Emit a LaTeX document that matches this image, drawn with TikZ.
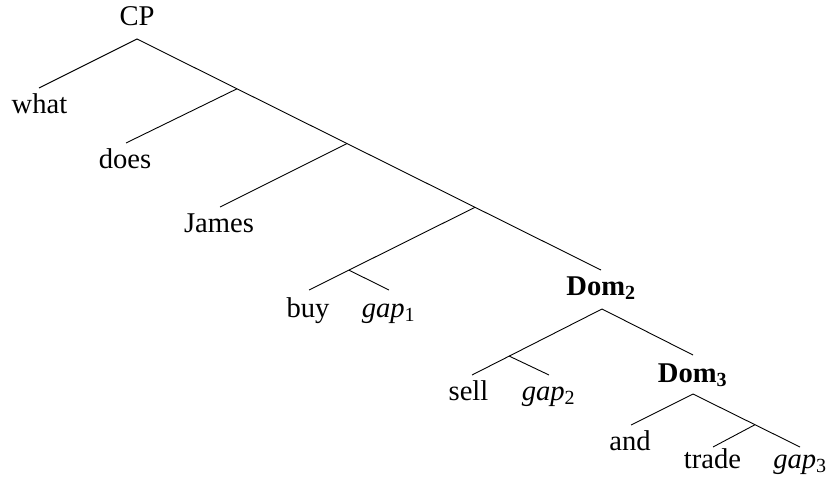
\documentclass[tikz,border=0pt]{standalone}
\usepackage{fontspec}
\setmainfont{Liberation Serif}
\begin{document}
\begin{tikzpicture}[x=1pt,y=-1pt,
  lbl/.style={anchor=base,inner sep=0pt,font=\fontsize{28.6}{34}\selectfont},
  edge/.style={line width=0.9pt,black}]
\useasboundingbox (0,0) rectangle (827,482);
% labels
\node[lbl] (cp) at (137,25) {CP};
\node[lbl] (what) at (39.5,113) {what};
\node[lbl] (does) at (125,168) {does};
\node[lbl] (james) at (219,232) {James};
\node[lbl] (buy) at (308,317) {buy};
\node[lbl] (gapa) at (388.5,317) {\textit{gap}\textsubscript{1}};
\node[lbl] (domb) at (601,295) {\textbf{Dom\textsubscript{2}}};
\node[lbl] (sell) at (468.5,400) {sell};
\node[lbl] (gapb) at (548.5,400) {\textit{gap}\textsubscript{2}};
\node[lbl] (domc) at (692.5,382) {\textbf{Dom\textsubscript{3}}};
\node[lbl] (and) at (630,450) {and};
\node[lbl] (trade) at (712.5,468) {trade};
\node[lbl] (gapc) at (800,468) {\textit{gap}\textsubscript{3}};
% tree points
\coordinate (cpT) at (137,39);
\coordinate (whatE) at (39,88);
\coordinate (j1) at (237,88.8);
\coordinate (doesE) at (126,143);
\coordinate (j2) at (347,143.6);
\coordinate (jamesE) at (220,207);
\coordinate (j3) at (475,207.3);
\coordinate (jb) at (349,270.2);
\coordinate (buyE) at (309,290);
\coordinate (gapaE) at (389,290);
\coordinate (dombE) at (601,270);
\coordinate (dombT) at (602,309);
\coordinate (js) at (509,356);
\coordinate (sellE) at (472,375);
\coordinate (gapbE) at (549,375);
\coordinate (domcE) at (693,355);
\coordinate (domcT) at (693,394);
\coordinate (andE) at (631,425);
\coordinate (jt) at (755,424.7);
\coordinate (tradeE) at (713,447);
\coordinate (gapcE) at (800,447);
% edges
\draw[edge] (whatE) -- (cpT) -- (dombE);
\draw[edge] (j1) -- (doesE);
\draw[edge] (j2) -- (jamesE);
\draw[edge] (j3) -- (buyE);
\draw[edge] (jb) -- (gapaE);
\draw[edge] (sellE) -- (dombT) -- (domcE);
\draw[edge] (js) -- (gapbE);
\draw[edge] (andE) -- (domcT) -- (gapcE);
\draw[edge] (jt) -- (tradeE);
\end{tikzpicture}
\end{document}
